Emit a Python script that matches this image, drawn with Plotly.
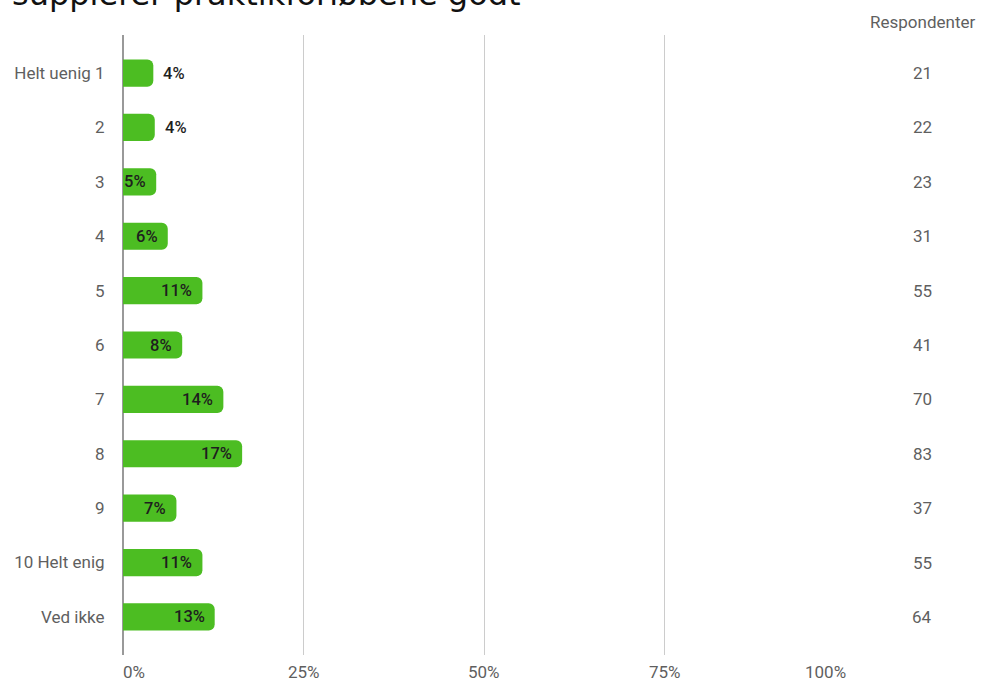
import plotly.graph_objects as go

categories = ["Helt uenig 1", "2", "3", "4", "5", "6", "7", "8", "9", "10 Helt enig", "Ved ikke"]
percent_values = [4.2, 4.4, 4.6, 6.2, 11.0, 8.2, 13.9, 16.5, 7.4, 11.0, 12.7]
percent_labels = ["4%", "4%", "5%", "6%", "11%", "8%", "14%", "17%", "7%", "11%", "13%"]
respondents = [21, 22, 23, 31, 55, 41, 70, 83, 37, 55, 64]
x_tick_values = [0, 25, 50, 75, 100]
x_tick_labels = ["0%", "25%", "50%", "75%", "100%"]
title_text = "supplerer praktikforløbene godt"
count_header = "Respondenter"

GREEN = "#4cbd22"
FONT = "Roboto, Arial, sans-serif"
GREY = "#5f5f5f"

fig = go.Figure()
fig.add_trace(go.Bar(
    y=list(range(len(categories))), x=percent_values, orientation="h",
    marker=dict(color=GREEN, cornerradius=6, line=dict(width=0)),
    width=0.5, hoverinfo="skip",
))

annotations = []
for i, (v, lab) in enumerate(zip(percent_values, percent_labels)):
    inside = v >= 4.5
    annotations.append(dict(
        x=v, y=i, xref="x", yref="y", text=lab, showarrow=False,
        xanchor="right" if inside else "left",
        xshift=-8 if inside else 8,
        font=dict(family=FONT, size=16.5, color="#1e1e1e", weight=500),
    ))
for i, n in enumerate(respondents):
    annotations.append(dict(
        x=1.107, y=i, xref="paper", yref="y", text=str(n), showarrow=False,
        xanchor="center", font=dict(family=FONT, size=17, color=GREY),
    ))
# x tick labels: first left-aligned, last right-aligned, others centred
for k, (tv, tl) in enumerate(zip(x_tick_values, x_tick_labels)):
    anchor = "left" if k == 0 else ("right" if k == len(x_tick_values) - 1 else "center")
    annotations.append(dict(
        x=tv, y=0, xref="x", yref="paper", text=tl, showarrow=False,
        xanchor=anchor, yanchor="top", yshift=-5,
        xshift=-2 if k == 0 else (3 if k == len(x_tick_values) - 1 else 0),
        font=dict(family=FONT, size=17, color=GREY),
    ))
annotations.append(dict(
    x=1.107, y=1.0, xref="paper", yref="paper", text=count_header, showarrow=False,
    xanchor="center", yanchor="bottom", yshift=1,
    font=dict(family=FONT, size=17, color=GREY),
))
annotations.append(dict(
    x=-0.157, y=1.034, xref="paper", yref="paper", text=title_text, showarrow=False,
    xanchor="left", yanchor="bottom", yshift=-1,
    font=dict(family="DejaVu Sans, sans-serif", size=32, color="#111111"),
))

fig.update_layout(
    width=981, height=682,
    margin=dict(l=123, r=136, t=35, b=27),
    paper_bgcolor="white", plot_bgcolor="white",
    showlegend=False,
    annotations=annotations,
    xaxis=dict(
        range=[0, 100], tickvals=x_tick_values, showticklabels=False,
        showgrid=True, gridcolor="#cccccc", gridwidth=1,
        zeroline=True, zerolinecolor="#999999", zerolinewidth=1.5,
        showline=False, ticks="",
        fixedrange=True, automargin=False,
    ),
    yaxis=dict(
        tickmode="array", tickvals=list(range(len(categories))), ticktext=categories,
        range=[len(categories) - 0.3, -0.7],
        showgrid=False, zeroline=False, showline=False,
        ticks="outside", ticklen=14, tickcolor="white",
        tickfont=dict(family=FONT, size=17, color=GREY),
        fixedrange=True, automargin=False,
    ),
)

fig.write_html(
    "out.html",
    config={"displayModeBar": False, "staticPlot": True},
    post_script="document.body.style.margin='0';document.body.style.overflow='hidden';",
)
